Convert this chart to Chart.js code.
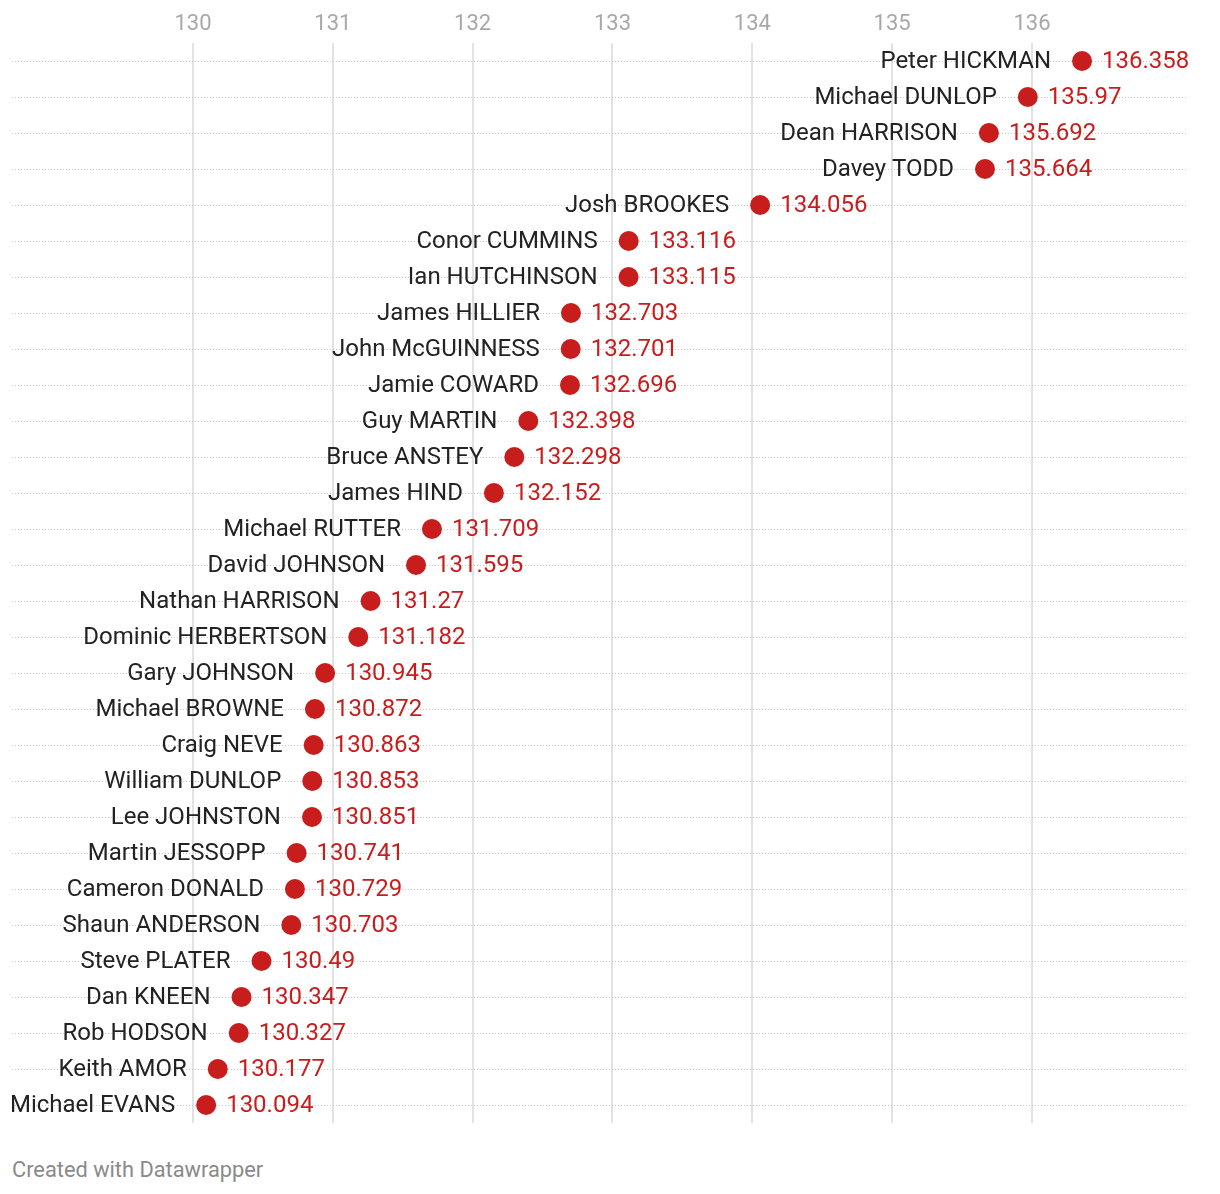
<!DOCTYPE html>
<html>
<head>
<meta charset="utf-8">
<script src="https://cdn.jsdelivr.net/npm/chart.js@4"></script>
<style>
  html, body { margin: 0; padding: 0; background: #fff; }
  #wrap { position: relative; width: 1220px; height: 1194px; }
  #footer { position: absolute; left: 12px; top: 1157px; font-family: Roboto, sans-serif; font-size: 21.8px; color: #8a8a8a; }
</style>
</head>
<body>
<div id="wrap">
  <canvas id="c" width="1220" height="1141"></canvas>
  <div id="footer">Created with Datawrapper</div>
</div>
<script>
const riders = ["Peter HICKMAN","Michael DUNLOP","Dean HARRISON","Davey TODD","Josh BROOKES","Conor CUMMINS","Ian HUTCHINSON","James HILLIER","John McGUINNESS","Jamie COWARD","Guy MARTIN","Bruce ANSTEY","James HIND","Michael RUTTER","David JOHNSON","Nathan HARRISON","Dominic HERBERTSON","Gary JOHNSON","Michael BROWNE","Craig NEVE","William DUNLOP","Lee JOHNSTON","Martin JESSOPP","Cameron DONALD","Shaun ANDERSON","Steve PLATER","Dan KNEEN","Rob HODSON","Keith AMOR","Michael EVANS"];
const speeds = [136.358,135.97,135.692,135.664,134.056,133.116,133.115,132.703,132.701,132.696,132.398,132.298,132.152,131.709,131.595,131.27,131.182,130.945,130.872,130.863,130.853,130.851,130.741,130.729,130.703,130.49,130.347,130.327,130.177,130.094];
const tickValues = [130,131,132,133,134,135,136];

const RED = '#c71e1d';

const labelPlugin = {
  id: 'dotLabels',
  afterDatasetsDraw(chart) {
    const ctx = chart.ctx;
    const meta = chart.getDatasetMeta(0);
    ctx.save();
    ctx.font = '24px Roboto';
    ctx.textBaseline = 'middle';
    meta.data.forEach((pt, i) => {
      ctx.fillStyle = '#222';
      ctx.textAlign = 'right';
      ctx.fillText(riders[i], pt.x - 31, pt.y + 1);
      ctx.fillStyle = RED;
      ctx.textAlign = 'left';
      ctx.fillText(String(speeds[i]), pt.x + 20, pt.y + 1);
    });
    ctx.restore();
  }
};

new Chart(document.getElementById('c'), {
  type: 'line',
  data: {
    labels: riders,
    datasets: [{
      data: speeds,
      showLine: false,
      pointRadius: 10,
      pointHoverRadius: 10,
      pointBackgroundColor: RED,
      pointBorderWidth: 0,
      borderColor: RED
    }]
  },
  options: {
    indexAxis: 'y',
    responsive: false,
    animation: false,
    events: [],
    layout: { padding: { left: 12, right: 33, top: 0, bottom: 18 } },
    plugins: { legend: { display: false }, tooltip: { enabled: false } },
    scales: {
      x: {
        type: 'linear',
        position: 'top',
        min: 128.7056,
        max: 137.1086,
        afterBuildTicks: (s) => { s.ticks = tickValues.map(v => ({ value: v })); },
        afterFit: (s) => { s.height = 43; },
        ticks: {
          font: { family: 'Roboto', size: 22 },
          color: '#a8a8a8',
          padding: 5,
          maxRotation: 0,
          autoSkip: false
        },
        grid: { color: '#e2e2e2', lineWidth: 2, drawTicks: false },
        border: { display: false }
      },
      y: {
        type: 'category',
        offset: true,
        afterFit: (s) => { s.width = 0; },
        ticks: { display: false },
        grid: { offset: false, color: '#c8c8c8', lineWidth: 1, drawTicks: false, borderDash: [1, 2] },
        border: { display: false, dash: [1, 2] }
      }
    }
  },
  plugins: [labelPlugin]
});
</script>
</body>
</html>
